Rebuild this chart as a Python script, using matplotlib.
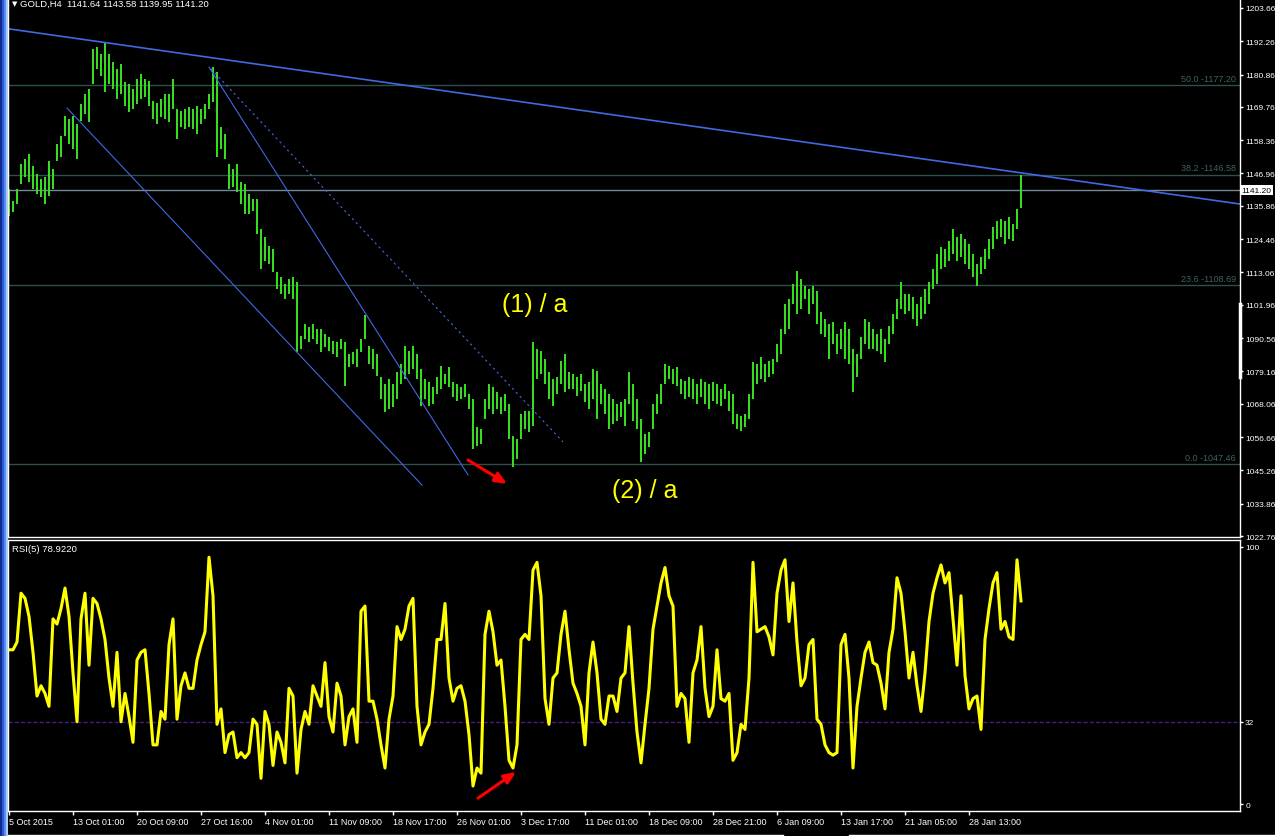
import matplotlib
matplotlib.use("Agg")
import matplotlib.pyplot as plt
from matplotlib.patches import Rectangle
from matplotlib.lines import Line2D
from numpy import arange

plt.rcParams['font.family'] = ['Liberation Sans', 'DejaVu Sans']

# === DATOS ===
# una barra cada 2 velas H4 (maximo / minimo)
highs = [1141.6, 1137.5, 1141.6, 1150.2, 1151.9, 1153.6, 1149.5, 1146.8, 1145.1, 1145.7,
         1151.2, 1148.5, 1157.1, 1159.8, 1166.7, 1165.6, 1166.7, 1163.9, 1170.8, 1174.2,
         1175.9, 1189.6, 1190.3, 1187.9, 1191.7, 1187.9, 1185.2, 1182.8, 1184.5, 1178.3,
         1177.6, 1175.9, 1179.3, 1181.0, 1179.3, 1178.6, 1171.8, 1171.1, 1172.5, 1174.2,
         1174.2, 1179.3, 1169.1, 1168.4, 1169.1, 1169.8, 1169.1, 1170.1, 1169.1, 1170.8,
         1174.2, 1183.4, 1181.7, 1162.9, 1160.5, 1150.2, 1148.5, 1150.2, 1144.0, 1143.4,
         1139.9, 1138.2, 1138.2, 1127.9, 1125.2, 1122.1, 1121.1, 1113.2, 1111.5, 1109.1,
         1110.8, 1111.5, 1109.8, 1091.3, 1095.4, 1094.4, 1095.4, 1093.7, 1093.7, 1092.0,
         1090.9, 1089.6, 1089.2, 1090.3, 1089.2, 1085.1, 1085.8, 1086.8, 1090.3, 1098.5,
         1087.8, 1086.8, 1085.1, 1077.2, 1074.8, 1076.6, 1074.8, 1078.9, 1081.7, 1087.8,
         1086.1, 1087.8, 1085.1, 1080.0, 1076.6, 1075.5, 1073.8, 1077.2, 1081.0, 1078.2,
         1080.7, 1075.5, 1074.8, 1073.8, 1074.8, 1071.4, 1069.7, 1060.1, 1059.4, 1069.7,
         1074.8, 1073.8, 1072.1, 1070.4, 1071.4, 1068.0, 1057.0, 1056.0, 1064.6, 1065.6,
         1065.6, 1089.2, 1086.8, 1086.1, 1083.4, 1078.9, 1076.6, 1077.2, 1082.7, 1085.1,
         1078.9, 1078.2, 1077.2, 1078.2, 1074.8, 1075.5, 1080.0, 1079.3, 1074.8, 1073.1,
         1071.4, 1069.7, 1068.0, 1068.7, 1069.7, 1078.9, 1074.8, 1069.7, 1062.8, 1057.7,
         1058.4, 1068.0, 1071.4, 1074.8, 1081.7, 1081.0, 1080.0, 1080.7, 1076.6, 1075.9,
         1077.2, 1076.6, 1074.8, 1076.6, 1075.5, 1074.8, 1075.5, 1074.8, 1073.1, 1074.8,
         1072.4, 1071.4, 1064.6, 1063.9, 1064.6, 1071.4, 1082.4, 1081.7, 1084.1, 1081.7,
         1082.7, 1083.4, 1088.5, 1093.7, 1102.2, 1104.0, 1109.1, 1113.6, 1110.8, 1108.4,
         1107.4, 1108.4, 1106.7, 1099.5, 1097.1, 1095.4, 1096.1, 1092.0, 1093.7, 1096.1,
         1093.7, 1086.8, 1085.1, 1090.9, 1097.1, 1096.1, 1093.7, 1092.0, 1093.7, 1090.3,
         1094.7, 1098.8, 1104.0, 1109.8, 1105.7, 1105.7, 1104.7, 1102.2, 1104.7, 1107.4,
         1109.8, 1114.2, 1119.4, 1121.8, 1121.1, 1123.8, 1127.9, 1125.2, 1126.2, 1124.5,
         1122.8, 1119.4, 1116.0, 1118.3, 1121.1, 1124.5, 1128.6, 1130.7, 1131.4, 1130.7,
         1132.1, 1129.7, 1134.8, 1146.3]
lows = [1132.4, 1133.8, 1136.5, 1143.4, 1145.7, 1144.0, 1141.6, 1139.9, 1138.9, 1136.5,
        1139.2, 1141.6, 1151.2, 1152.6, 1159.8, 1157.1, 1155.4, 1151.9, 1164.9, 1167.3,
        1164.6, 1177.6, 1182.8, 1180.4, 1174.9, 1177.6, 1175.9, 1172.5, 1174.2, 1170.1,
        1168.0, 1169.1, 1170.8, 1172.5, 1173.2, 1170.1, 1165.6, 1163.9, 1166.3, 1165.6,
        1164.6, 1169.1, 1158.8, 1162.9, 1162.2, 1162.9, 1162.2, 1160.5, 1163.9, 1165.6,
        1169.1, 1171.5, 1152.6, 1155.4, 1151.9, 1141.6, 1142.3, 1140.6, 1136.5, 1133.1,
        1133.1, 1134.1, 1126.2, 1114.2, 1117.0, 1116.0, 1113.2, 1107.4, 1105.7, 1104.0,
        1105.7, 1104.0, 1085.8, 1086.8, 1090.3, 1089.2, 1090.3, 1088.5, 1085.8, 1087.5,
        1086.1, 1085.1, 1084.1, 1086.8, 1074.2, 1080.7, 1081.7, 1080.7, 1085.8, 1090.3,
        1081.7, 1080.0, 1077.6, 1069.7, 1065.2, 1066.3, 1067.0, 1069.7, 1074.8, 1076.6,
        1078.2, 1080.0, 1076.6, 1067.3, 1069.7, 1067.3, 1068.0, 1071.4, 1073.1, 1074.8,
        1073.8, 1070.4, 1069.0, 1069.7, 1070.4, 1066.3, 1052.6, 1053.6, 1054.3, 1062.8,
        1066.3, 1064.6, 1066.3, 1064.6, 1065.6, 1056.0, 1046.4, 1049.1, 1056.0, 1059.4,
        1058.4, 1060.4, 1076.6, 1078.2, 1074.8, 1069.7, 1067.3, 1071.4, 1074.8, 1072.1,
        1073.1, 1073.1, 1070.7, 1072.4, 1068.7, 1066.3, 1069.7, 1062.8, 1068.0, 1064.6,
        1059.4, 1061.1, 1062.2, 1063.5, 1060.4, 1068.0, 1062.2, 1059.4, 1048.1, 1050.8,
        1053.3, 1059.4, 1064.6, 1068.0, 1074.8, 1076.6, 1074.8, 1074.2, 1071.4, 1069.7,
        1070.4, 1069.7, 1068.0, 1070.4, 1068.0, 1066.3, 1069.0, 1068.0, 1067.3, 1069.7,
        1065.6, 1061.1, 1059.4, 1058.7, 1060.1, 1062.8, 1069.7, 1074.8, 1076.6, 1075.5,
        1077.2, 1078.2, 1082.4, 1085.1, 1092.0, 1093.7, 1102.2, 1098.8, 1100.5, 1104.0,
        1098.8, 1102.2, 1095.4, 1092.0, 1090.9, 1083.4, 1088.5, 1085.1, 1086.8, 1083.4,
        1081.7, 1072.1, 1077.2, 1083.4, 1088.5, 1086.8, 1086.8, 1086.1, 1085.1, 1082.4,
        1088.5, 1092.0, 1097.1, 1100.5, 1098.8, 1099.8, 1097.1, 1094.7, 1097.1, 1098.8,
        1102.2, 1107.4, 1109.1, 1114.2, 1114.9, 1117.0, 1119.4, 1117.0, 1118.3, 1116.0,
        1114.2, 1111.5, 1108.4, 1112.5, 1114.2, 1117.7, 1121.1, 1124.5, 1125.2, 1122.8,
        1124.5, 1123.8, 1127.9, 1135.0]

rsi = [60, 60, 63, 82, 80, 73, 59, 42, 46, 43,
       38, 72, 70, 76, 84, 73, 51, 32, 72, 82,
       54, 80, 78, 72, 64, 49, 38, 59, 32, 43,
       34, 24, 56, 59, 60, 43, 23, 23, 36, 33,
       62, 72, 33, 46, 51, 45, 45, 56, 62, 67,
       96, 81, 31, 37, 20, 27, 28, 18, 20, 18,
       20, 33, 31, 10, 36, 31, 15, 28, 24, 16,
       45, 42, 12, 29, 36, 31, 46, 42, 38, 55,
       34, 28, 47, 42, 23, 34, 37, 24, 75, 77,
       40, 40, 33, 23, 14, 33, 42, 69, 64, 68,
       77, 80, 38, 23, 28, 31, 45, 64, 64, 78,
       49, 40, 45, 46, 40, 27, 7, 14, 12, 66,
       75, 67, 54, 56, 38, 17, 14, 23, 64, 66,
       64, 91, 94, 81, 41, 31, 49, 51, 66, 75,
       60, 47, 43, 38, 23, 51, 63, 51, 33, 31,
       42, 42, 36, 49, 51, 69, 47, 28, 16, 31,
       45, 68, 77, 86, 92, 81, 77, 38, 43, 41,
       24, 51, 56, 69, 45, 34, 38, 60, 41, 40,
       43, 17, 20, 31, 29, 49, 94, 67, 68, 69,
       65, 58, 82, 91, 95, 71, 86, 63, 46, 49,
       62, 64, 33, 31, 23, 20, 19, 20, 62, 66,
       49, 14, 38, 49, 59, 63, 55, 54, 47, 37,
       59, 68, 88, 82, 67, 49, 59, 46, 36, 51,
       71, 82, 88, 93, 86, 90, 72, 54, 81, 50,
       37, 41, 42, 29, 64, 76, 86, 90, 68, 71,
       65, 64, 95, 79]

price_ticks = [1203.66, 1192.26, 1180.86, 1169.76, 1158.36, 1146.96, 1135.86, 1124.46, 1113.06,
               1101.96, 1090.56, 1079.16, 1068.06, 1056.66, 1045.26, 1033.86, 1022.76]
time_labels = ["5 Oct 2015", "13 Oct 01:00", "20 Oct 09:00", "27 Oct 16:00", "4 Nov 01:00",
               "11 Nov 09:00", "18 Nov 17:00", "26 Nov 01:00", "3 Dec 17:00", "11 Dec 01:00",
               "18 Dec 09:00", "28 Dec 21:00", "6 Jan 09:00", "13 Jan 17:00", "21 Jan 05:00",
               "28 Jan 13:00"]
time_ticks = [0, 32, 64, 96, 128, 160, 192, 224, 256, 288, 320, 352, 384, 416, 448, 480]  # en velas H4
fib_levels = ["50.0", "38.2", "23.6", "0.0"]
fib_prices = [1177.20, 1146.58, 1108.69, 1047.46]
last_price = 1141.20
header = "GOLD,H4  1141.64 1143.58 1139.95 1141.20"
rsi_label = "RSI(5) 78.9220"
rsi_level = 32

# lineas de tendencia dibujadas (vela H4, precio)
trend_top = ([0, 615.5], [1196.5, 1136.5])
channel_low = ([29, 206.5], [1169.4, 1040.2])
channel_high = ([100, 229.5], [1183.4, 1043.7])
channel_dash = ([101, 277], [1182.8, 1055.0])

# === FIGURA ===
W, H = 1275, 837
fig = plt.figure(figsize=(W / 100, H / 100), dpi=100, facecolor='black')


def caja(x0, y0, x1, y1):
    return [x0 / W, 1 - y1 / H, (x1 - x0) / W, (y1 - y0) / H]


ax = fig.add_axes(caja(8, 0, 1240, 538))
ax2 = fig.add_axes(caja(8, 541, 1240, 812))

bar_x = 2 * arange(len(highs))

# --- precio ---
ax.set_facecolor('black')
ax.set_xlim(-0.5, 615.5)
ax.set_ylim(1022.42, 1206.74)

for p, lev in zip(fib_prices, fib_levels):
    ax.axhline(p, color='#2F4F4F', lw=1)
    ax.text(0.9968, p + 0.8, lev + " -" + "%.2f" % p, transform=ax.get_yaxis_transform(),
            ha='right', va='bottom', color='#3f6262', fontsize=6.5)
ax.axhline(last_price, color='#778899', lw=1)

ax.vlines(bar_x, lows, highs, color='#36dc1e', lw=1.44, antialiased=False)

ax.plot(*trend_top, color='#4169E1', lw=1.2)
ax.plot(*channel_low, color='#4169E1', lw=0.8)
ax.plot(*channel_high, color='#4169E1', lw=0.8)
ax.plot(*channel_dash, color='#4169E1', lw=0.8, linestyle=(0, (2, 3)))

ax.annotate('', xy=(249, 1040.6), xytext=(229.5, 1048.8),
            arrowprops=dict(arrowstyle='-|>,head_length=0.7,head_width=0.3', color='red',
                            lw=2.2, shrinkA=0, shrinkB=0))
ax.text(246.5, 1102.2, "(1) / a", color='#FFFF00', fontsize=18, va='center', ha='left')
ax.text(301.5, 1038.5, "(2) / a", color='#FFFF00', fontsize=18, va='center', ha='left')

ax.yaxis.tick_right()
ax.set_yticks(price_ticks)
ax.set_yticklabels(["%.2f" % v for v in price_ticks])
ax.set_xticks([])
ax.tick_params(axis='y', colors='white', labelsize=6, length=2.5, width=1, pad=1.2)
for s in ['left', 'right', 'bottom']:
    ax.spines[s].set_color('white')
    ax.spines[s].set_linewidth(1)
ax.spines['top'].set_visible(False)

ax.text(1.001, last_price, "%.2f" % last_price, transform=ax.get_yaxis_transform(),
        ha='left', va='center', color='black', fontsize=6, clip_on=False,
        bbox=dict(boxstyle='square,pad=0.2', facecolor='white', edgecolor='none'))
ax.plot([615.5, 615.5], [1102.2, 1077.2], color='white', lw=2.5, clip_on=False)

# --- RSI ---
ax2.set_facecolor('black')
ax2.set_xlim(-0.5, 615.5)
ax2.set_ylim(-2.72, 102.7)
ax2.axhline(rsi_level, color='#4B1A8A', lw=1, linestyle=(0, (3, 1.5)))
ax2.plot(bar_x, rsi, color='#FFFF00', lw=2.2)
ax2.annotate('', xy=(253.5, 12.5), xytext=(234.5, 2.3),
             arrowprops=dict(arrowstyle='-|>,head_length=0.7,head_width=0.3', color='red',
                             lw=2.2, shrinkA=0, shrinkB=0))

ax2.yaxis.tick_right()
ax2.set_yticks([0, rsi_level, 100])
ax2.set_yticklabels(["0", str(rsi_level), "100"])
ax2.set_xticks(time_ticks)
ax2.set_xticklabels(time_labels, ha='left')
ax2.tick_params(colors='white', labelsize=6.5, length=3, width=1, pad=1.5)
ax2.tick_params(axis='y', labelsize=6, length=2.5, pad=1.2)
for s in ax2.spines.values():
    s.set_color('white')
    s.set_linewidth(1)

# --- textos y marco ---
fig.text(12 / W, 1 - 4.5 / H, "\u25bc", color='white', fontsize=5, va='center',
         family='DejaVu Sans')
fig.text(20 / W, 1 - 4.5 / H, header, color='white', fontsize=6.8, va='center')
fig.text(12 / W, 1 - 550 / H, rsi_label, color='white', fontsize=6.8, va='center')

for x0, c in [(0, '#0f2a8a'), (2, '#2a5ad8'), (4, '#5a8ef0'), (6, '#b0ccf8')]:
    fig.patches.append(Rectangle((x0 / W, 0), 2 / W, 1, transform=fig.transFigure,
                                 facecolor=c, edgecolor='none'))
fig.add_artist(Line2D([8 / W, 783 / W], [1 - 835.5 / H] * 2, color='white', lw=1))
fig.add_artist(Line2D([849 / W, 1], [1 - 835.5 / H] * 2, color='white', lw=1))

fig.savefig('out.png', dpi=100, facecolor='black')
